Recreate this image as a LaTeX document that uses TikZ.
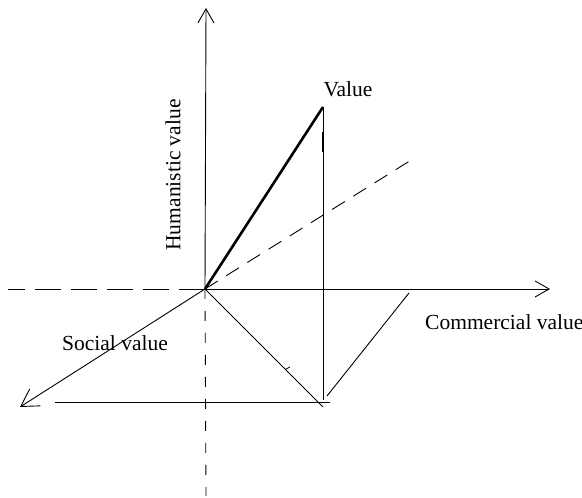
\documentclass[tikz,border=0pt]{standalone}
\usepackage{fontspec}
\setmainfont{Liberation Serif}
\usetikzlibrary{arrows.meta}

\begin{document}
\begin{tikzpicture}[x=1pt,y=1pt,
    axis/.style={line width=0.9pt},
    axisdash/.style={line width=0.9pt, dash pattern=on 26pt off 10pt},
    barb/.style={-{Straight Barb[length=14pt,width=16pt]}},
    lbl/.style={inner sep=0pt, font=\fontsize{21.5}{25}\selectfont}]
			\useasboundingbox (0,0) rectangle (582,498);
			% axes
			\coordinate (O) at (205,209);
			\coordinate (hum) at (206,490);
			\coordinate (humlow) at (206,2);
			\coordinate (com) at (550,209);
			\coordinate (comlow) at (8,209);
			\coordinate (soc) at (20,91);
			\draw[axis, barb] (O) -- (hum);
			\draw[axis, barb] (O) -- (com);
			\draw[axis, -{Straight Barb[length=17pt,width=20pt]}] (O) -- (soc);
			\draw[axisdash] (O) -- (comlow);
			\draw[line width=0.9pt, dash pattern=on 10pt off 12pt] (O) -- (humlow);
			% value vector and projections
			\coordinate (V) at (323,391);
			\coordinate (Vfoot) at (323,98);
			\coordinate (P) at (323,91);
			\coordinate (Q) at (409,205);
			\coordinate (Qlow) at (327,102);
			\coordinate (bl) at (55,96);
			\coordinate (br) at (330,96);
			\coordinate (dashend) at (416,341);
			\draw[line width=2.6pt] (O) -- (V);
			\draw[axis] (V) -- (Vfoot);
			\draw[line width=2pt] (323,366) -- (323,346);
			\draw[line width=0.9pt, dash pattern=on 15pt off 10pt] (O) -- (dashend);
			\draw[axis] (O) -- (P);
			\draw[axis] (Qlow) -- (Q);
			\draw[axis] (bl) -- (br);
			\draw[line width=0.8pt] (286,129) -- (290,131);
			% labels
			\node[lbl] (value) at (348,409) {Value};
			\node[lbl, rotate=90] (humlbl) at (173,323) {Humanistic value};
			\node[lbl] (soclbl) at (115,155) {Social value};
			\node[lbl, anchor=west] (comlbl) at (425,176) {Commercial value};
		\end{tikzpicture}
\end{document}
